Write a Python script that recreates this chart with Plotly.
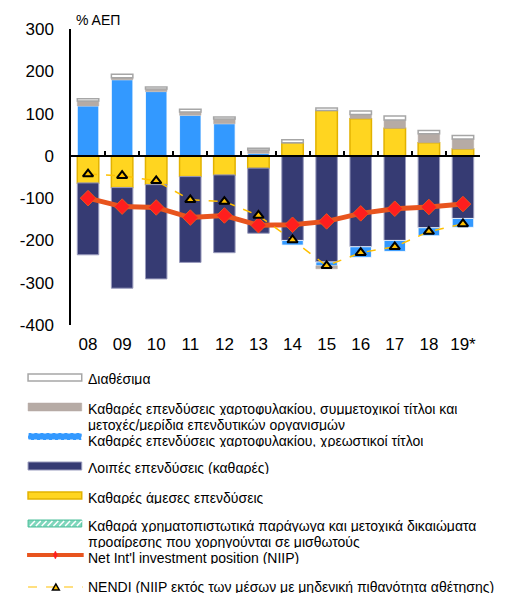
import plotly.graph_objects as go

# ---------------- data ----------------
years = ['08', '09', '10', '11', '12', '13', '14', '15', '16', '17', '18', '19*']
direct_inv = [-64, -75, -68, -49, -45, -29, 31, 107, 88, 65, 31, 16]          # Καθαρές άμεσες επενδύσεις
other_inv = [-170, -238, -223, -203, -184, -154, -200, -251, -215, -200, -170, -148]  # Λοιπές επενδύσεις
debt_sec = [118, 180, 152, 96, 76, 6, -11, -9, -25, -26, -19, -21]             # χρεωστικοί τίτλοι
equity_sec = [12, 5, 6, 8, 11, 8, 0, -7, 10, 20, 21, 24]                       # συμμετοχικοί τίτλοι
reserves = [5, 8, 5, 6, 5, 4, 7, 6, 8, 9, 8, 8]                                 # Διαθέσιμα
derivatives = [0, 0, 0, 0, 0, 0, 0, 0, 0, 0, 0, 0]                              # παράγωγα
niip = [-100, -120, -122, -146, -141, -164, -163, -155, -136, -125, -121, -114]
nendi = [-43, -47, -59, -104, -108, -141, -199, -260, -229, -215, -179, -161]

ytick_vals = [-400, -300, -200, -100, 0, 100, 200, 300]
ytick_text = ['-400', '-300', '-200', '-100', '0', '100', '200', '300']

legend_labels = [
    ['Διαθέσιμα'],
    ['Καθαρές επενδύσεις χαρτοφυλακίου, συμμετοχικοί τίτλοι και',
     'μετοχές/μερίδια επενδυτικών οργανισμών'],
    ['Καθαρές επενδύσεις χαρτοφυλακίου, χρεωστικοί τίτλοι'],
    ['Λοιπές επενδύσεις (καθαρές)'],
    ['Καθαρές άμεσες επενδύσεις'],
    ['Καθαρά χρηματοπιστωτικά παράγωγα και μετοχικά δικαιώματα',
     'προαίρεσης που χορηγούνται σε μισθωτούς'],
    ['Net Int\'l investment position (NIIP)'],
    ['NENDI (NIIP εκτός των μέσων με μηδενική πιθανότητα αθέτησης)'],
]

# ---------------- colours ----------------
C_YEL, C_YEL_L = '#FFD520', '#E2B200'
C_NAVY, C_NAVY_L = '#363B73', '#9A9CBD'
C_BLUE = '#3399FF'
C_EQ = '#B6ABA5'
C_RES_L = '#A6A6A6'
C_GREEN = '#7ED6BC'
C_NIIP = '#E8541E'
C_NIIP_M = '#FF1E1E'
C_NENDI = '#FFC000'

FONT = 'Arial, Liberation Sans, sans-serif'

fig = go.Figure()

def bar(vals, fill, line_color, line_w):
    fig.add_trace(go.Bar(x=years, y=vals, marker=dict(color=fill, line=dict(color=line_color, width=line_w)),
                         showlegend=False, hoverinfo='skip'))

bar(direct_inv, C_YEL, C_YEL_L, 1.5)
bar(other_inv, C_NAVY, C_NAVY_L, 1)
bar(debt_sec, C_BLUE, 'rgba(255,255,255,0.8)', 1)
bar(equity_sec, C_EQ, C_EQ, 0.5)
bar(reserves, 'white', C_RES_L, 1.5)
bar(derivatives, C_GREEN, 'rgba(0,0,0,0)', 0)

fig.add_trace(go.Scatter(x=years, y=niip, mode='lines+markers',
                         line=dict(color=C_NIIP, width=5),
                         marker=dict(symbol='diamond', size=12, color=C_NIIP_M, line=dict(color=C_NIIP, width=1)),
                         showlegend=False, hoverinfo='skip'))
fig.add_trace(go.Scatter(x=years, y=nendi, mode='lines+markers',
                         line=dict(color=C_NENDI, width=1.5, dash='dash'),
                         marker=dict(symbol='triangle-up', size=9, color=C_NENDI, line=dict(color='black', width=2)),
                         showlegend=False, hoverinfo='skip'))
# invisible helper carrying the category labels on the bottom axis
fig.add_trace(go.Scatter(x=years, y=niip, xaxis='x2', mode='markers', marker=dict(opacity=0),
                         showlegend=False, hoverinfo='skip'))

# ---------------- layout helpers (page pixel -> paper) ----------------
OFF = 8                      # page body margin
W, H = 515 - OFF, 597 - OFF
L, R, T, B = 61, 480, 29, 325   # plot area in page pixels
def px(x):
    return (x - L) / (R - L)
def py(y):
    return (B - y) / (B - T)

shapes = []
annotations = []

def rect(x0, x1, y0, y1, fill, line_color, line_w, dash=None):
    d = dict(type='rect', xref='paper', yref='paper', x0=px(x0), x1=px(x1), y0=py(y1), y1=py(y0),
             fillcolor=fill, line=dict(color=line_color, width=line_w))
    if dash:
        d['line']['dash'] = dash
    shapes.append(d)

def text(x, y, s, size=14, box_h=12):
    annotations.append(dict(xref='paper', yref='paper', x=px(x), y=py(y), text=s, showarrow=False,
                            xanchor='left', yanchor='middle', height=box_h, valign='middle', borderpad=0,
                            font=dict(family=FONT, size=size, color='black')))

SX0, SX1, TX = 17, 72, 77
# 1 Διαθέσιμα
rect(SX0, SX1, 374, 381, 'white', C_RES_L, 1.5)
text(TX, 379, legend_labels[0][0])
# 2 equity
rect(SX0, SX1, 403, 411, C_EQ, C_EQ, 0.5)
text(TX, 409, legend_labels[1][0])
text(TX, 425, legend_labels[1][1])
# 3 debt
rect(SX0, SX1, 433, 440, C_BLUE, 'white', 1, dash='dot')
text(TX, 441, legend_labels[2][0])
# 4 other
rect(SX0, SX1, 462, 470, C_NAVY, C_NAVY_L, 1)
text(TX, 468, legend_labels[3][0])
# 5 direct
rect(SX0, SX1, 492, 499, C_YEL, C_YEL_L, 1.5)
text(TX, 498, legend_labels[4][0])
# 6 derivatives (hatched)
rect(SX0, SX1, 520, 527, C_GREEN, '#4DBF9A', 1)
for k in range(9):
    xa = SX0 + 2 + k * 6
    shapes.append(dict(type='line', xref='paper', yref='paper', x0=px(xa), x1=px(xa + 5),
                       y0=py(526), y1=py(521), line=dict(color='white', width=1.5)))
text(TX, 526, legend_labels[5][0])
text(TX, 542, legend_labels[5][1])
# 7 NIIP
shapes.append(dict(type='line', xref='paper', yref='paper', x0=px(16), x1=px(74), y0=py(555), y1=py(555),
                   line=dict(color=C_NIIP, width=4)))
shapes.append(dict(type='path', xref='paper', yref='paper',
                   path='M {} {} L {} {} L {} {} L {} {} Z'.format(px(45), py(551), px(47), py(555), px(45), py(559), px(43), py(555)),
                   fillcolor=C_NIIP_M, line=dict(color=C_NIIP_M, width=0.5)))
text(TX, 558, legend_labels[6][0])
# 8 NENDI
shapes.append(dict(type='line', xref='paper', yref='paper', x0=px(17), x1=px(73), y0=py(587), y1=py(587),
                   line=dict(color=C_NENDI, width=1.2, dash='dash')))
shapes.append(dict(type='path', xref='paper', yref='paper',
                   path='M {} {} L {} {} L {} {} Z'.format(px(42), py(590), px(49), py(590), px(45.5), py(584)),
                   fillcolor=C_NENDI, line=dict(color='black', width=1.5)))
text(TX, 587, legend_labels[7][0])

# axis title
text(65, 20, '% ΑΕΠ', size=14, box_h=16)

fig.update_layout(
    width=W, height=H,
    margin=dict(l=L - OFF, r=515 - R, t=T - OFF, b=597 - B, pad=0),
    paper_bgcolor='white', plot_bgcolor='white',
    barmode='relative', bargap=0.37,
    font=dict(family=FONT, color='black'),
    showlegend=False,
    xaxis=dict(type='category', range=[-0.5, 11.5], anchor='free', position=400 / 700,
               showline=True, linecolor='black', linewidth=1.5,
               ticks='inside', ticklen=4, tickwidth=1.5, tickcolor='black', tickson='boundaries',
               showticklabels=False, showgrid=False, zeroline=False),
    xaxis2=dict(type='category', range=[-0.5, 11.5], overlaying='x', side='bottom', anchor='y',
                showline=False, ticks='', showgrid=False, zeroline=False,
                tickfont=dict(family=FONT, size=17, color='black'), ticklabelstandoff=7),
    yaxis=dict(range=[-400, 300], tickvals=ytick_vals, ticktext=ytick_text,
               showline=True, linecolor='black', linewidth=1.5, ticks='',
               showgrid=False, zeroline=False, tickfont=dict(family=FONT, size=17, color='black'),
               ticklabelstandoff=12),
    shapes=shapes, annotations=annotations,
)

fig.write_html('out.html')
